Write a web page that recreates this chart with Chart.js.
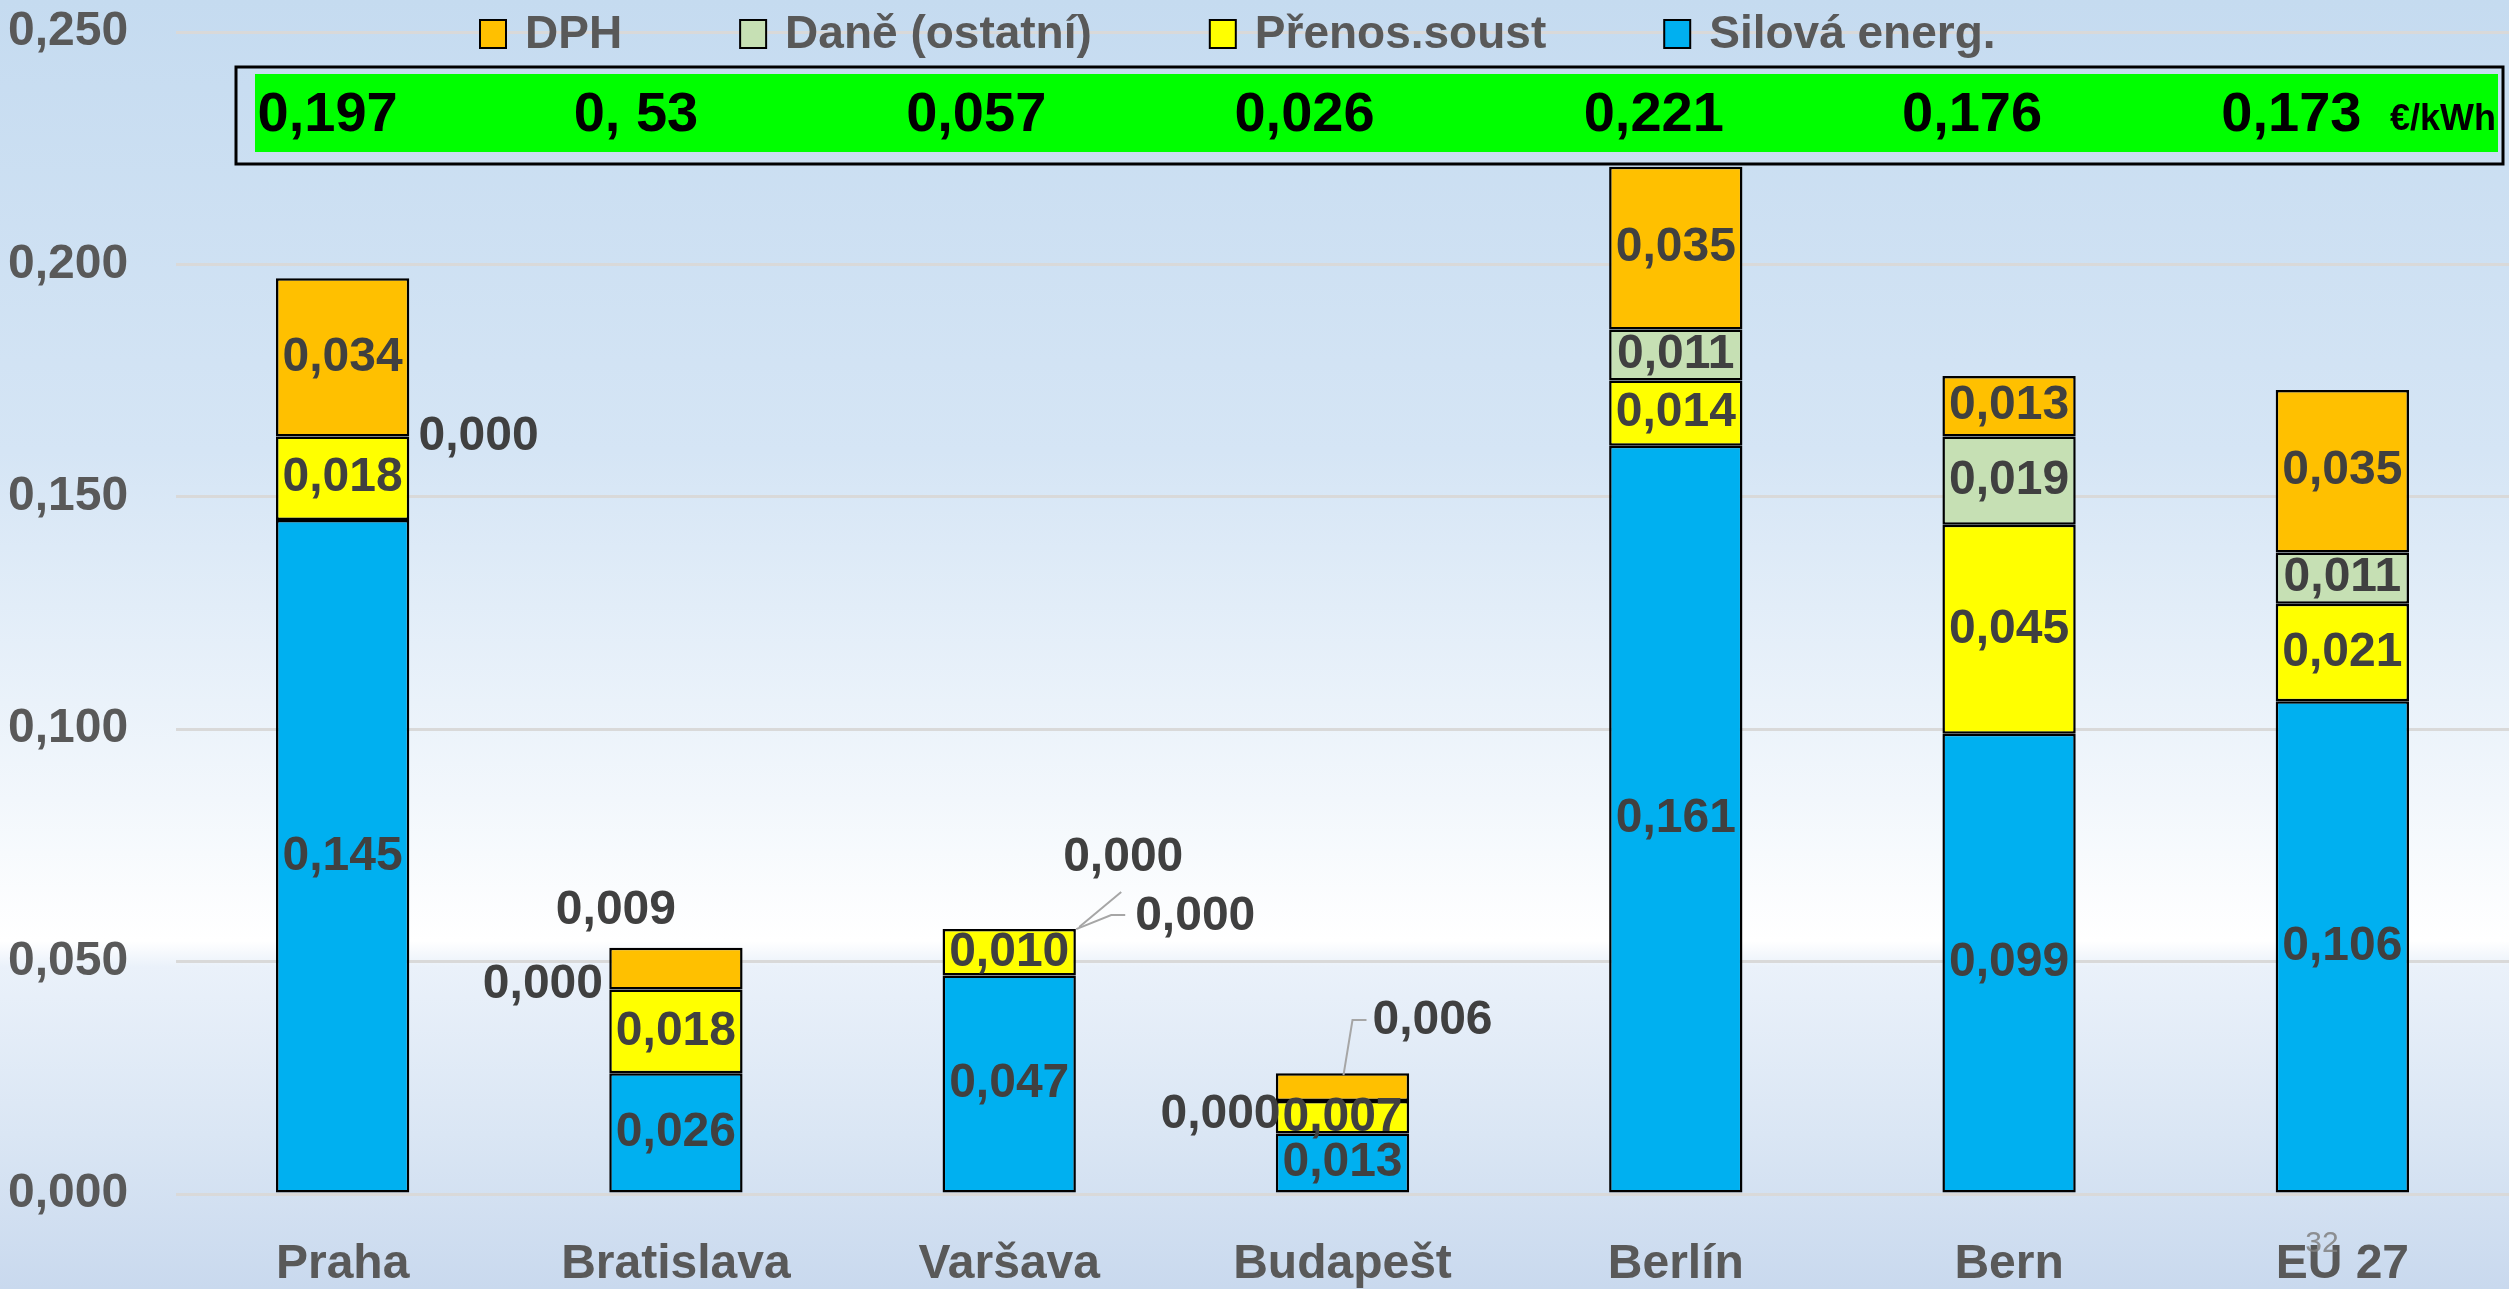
<!DOCTYPE html>
<html>
<head>
<meta charset="utf-8">
<script src="https://cdn.jsdelivr.net/npm/chart.js@4.4.1/dist/chart.umd.min.js"></script>
<style>
  html, body { margin: 0; padding: 0; overflow: hidden; }
  body {
    width: 2509px; height: 1289px;
    background: linear-gradient(to bottom, #c5dbf0 0%, #d5e5f5 35%, #f2f7fc 62%, #ffffff 73%, #eaf1fa 75%, #dae6f4 88%, #c9d9ee 100%);
  }
  canvas { display: block; }
</style>
</head>
<body>
<canvas id="priceChart" width="2509" height="1289"></canvas>
<script>
// data (€/kWh)
var cities = ['Praha', 'Bratislava', 'Varšava', 'Budapešt', 'Berlín', 'Bern', 'EU 27'];
var silovaEnerg = [0.145, 0.026, 0.047, 0.013, 0.161, 0.099, 0.106];
var prenosSoust = [0.018, 0.018, 0.010, 0.007, 0.014, 0.045, 0.021];
var daneOstatni = [0.000, 0.000, 0.000, 0.000, 0.011, 0.019, 0.011];
var dph = [0.034, 0.009, 0.000, 0.006, 0.035, 0.013, 0.035];
var totalLabels = ['0,197', '0, 53', '0,057', '0,026', '0,221', '0,176', '0,173'];
var unitLabel = '€/kWh';
var yTicks = [0, 0.05, 0.10, 0.15, 0.20, 0.25];

var FONT = "'Liberation Sans', Arial, sans-serif";
var fmt = function (v) { return v.toFixed(3).replace('.', ','); };

// labels that sit outside their segment (dataset-index)
var labelMoves = {
  '2-0': { dx: 136, dy: 0 },
  '2-1': { dx: -133, dy: -5 },
  '3-1': { dx: -60, dy: -58 },
  '3-2': { dx: 114, dy: -71, line: [[70, -2], [112, -37]] },
  '2-2': { dx: 186, dy: -12, line: [[67, 0], [102, -14], [116, -14]] },
  '2-3': { dx: -122, dy: 14 },
  '3-3': { dx: 90, dy: -66, line: [[1, -12], [10, -67], [24, -67]] }
};
var totalsShift = [-15, -40, -33, -38, -22, -37, -51];

var barLabels = {
  id: 'barLabels',
  afterDatasetsDraw: function (chart) {
    var ctx = chart.ctx;
    ctx.save();
    chart.data.datasets.forEach(function (ds, i) {
      var meta = chart.getDatasetMeta(i);
      meta.data.forEach(function (el, j) {
        var cx = el.x, cy = (el.y + el.base) / 2;
        var mv = labelMoves[i + '-' + j] || { dx: 0, dy: 0 };
        if (mv.line) {
          ctx.strokeStyle = '#a6a6a6';
          ctx.lineWidth = 2;
          ctx.beginPath();
          mv.line.forEach(function (p, k) {
            if (k === 0) ctx.moveTo(cx + p[0], cy + p[1]);
            else ctx.lineTo(cx + p[0], cy + p[1]);
          });
          ctx.stroke();
        }
        ctx.fillStyle = '#404040';
        ctx.font = 'bold 48px ' + FONT;
        ctx.textAlign = 'center';
        ctx.textBaseline = 'middle';
        ctx.fillText(fmt(ds.data[j]), cx + mv.dx, cy + mv.dy);
      });
    });
    ctx.restore();
  },
  afterDraw: function (chart) {
    var ctx = chart.ctx;
    var xs = chart.scales.x;
    ctx.save();

    // totals strip
    ctx.fillStyle = '#00ff00';
    ctx.fillRect(255, 74, 2243, 78);
    ctx.strokeStyle = '#000';
    ctx.lineWidth = 3;
    ctx.strokeRect(236, 67, 2267, 97);
    ctx.fillStyle = '#000';
    ctx.font = 'bold 56px ' + FONT;
    ctx.textAlign = 'center';
    ctx.textBaseline = 'middle';
    totalLabels.forEach(function (t, k) {
      ctx.fillText(t, xs.getPixelForValue(k) + totalsShift[k], 116);
    });
    ctx.font = 'bold 36px ' + FONT;
    ctx.textAlign = 'right';
    ctx.fillText(unitLabel, 2496, 120);

    // legend, reversed order
    ctx.font = 'bold 46px ' + FONT;
    ctx.textAlign = 'left';
    var lx = 480;
    for (var i = chart.data.datasets.length - 1; i >= 0; i--) {
      var ds = chart.data.datasets[i];
      ctx.fillStyle = ds.backgroundColor;
      ctx.fillRect(lx, 20, 26, 28);
      ctx.strokeStyle = '#000';
      ctx.lineWidth = 2;
      ctx.strokeRect(lx, 20, 26, 28);
      ctx.fillStyle = '#595959';
      ctx.fillText(ds.label, lx + 45, 35);
      lx += 45 + ctx.measureText(ds.label).width + 118;
    }

    // slide number
    ctx.font = '30px ' + FONT;
    ctx.fillStyle = 'rgba(128,128,128,0.85)';
    ctx.textAlign = 'center';
    ctx.fillText('32', 2322, 1244);
    ctx.restore();
  }
};

var ctx = document.getElementById('priceChart').getContext('2d');
var priceChart = new Chart(ctx, {
  type: 'bar',
  data: {
    labels: cities,
    datasets: [
      { label: 'Silová energ.', data: silovaEnerg, backgroundColor: '#00b0f0' },
      { label: 'Přenos.soust', data: prenosSoust, backgroundColor: '#ffff00' },
      { label: 'Daně (ostatní)', data: daneOstatni, backgroundColor: '#c6e0b4' },
      { label: 'DPH', data: dph, backgroundColor: '#ffc000' }
    ]
  },
  options: {
    responsive: false,
    devicePixelRatio: 1,
    animation: false,
    layout: { padding: { top: 32, left: 8, right: 0, bottom: 0 } },
    datasets: {
      bar: {
        borderColor: '#000000',
        borderWidth: 2.5,
        borderSkipped: false,
        barPercentage: 0.4,
        categoryPercentage: 1
      }
    },
    plugins: {
      legend: { display: false },
      tooltip: { enabled: false }
    },
    scales: {
      x: {
        stacked: true,
        grid: { display: false },
        border: { display: false },
        ticks: {
          color: '#595959',
          font: { family: FONT, size: 48, weight: 'bold' },
          padding: 34,
          maxRotation: 0
        },
        afterFit: function (s) { s.height = 95; }
      },
      y: {
        stacked: true,
        min: 0,
        max: 0.25,
        afterBuildTicks: function (s) {
          s.ticks = yTicks.map(function (v) { return { value: v }; });
        },
        grid: { color: '#d9d9d9', lineWidth: 3, drawTicks: false },
        border: { display: false },
        ticks: {
          color: '#595959',
          font: { family: FONT, size: 48, weight: 'bold' },
          crossAlign: 'far',
          callback: function (v) { return fmt(v); }
        },
        afterFit: function (s) { s.width = 168; }
      }
    }
  },
  plugins: [barLabels]
});
</script>
</body>
</html>
